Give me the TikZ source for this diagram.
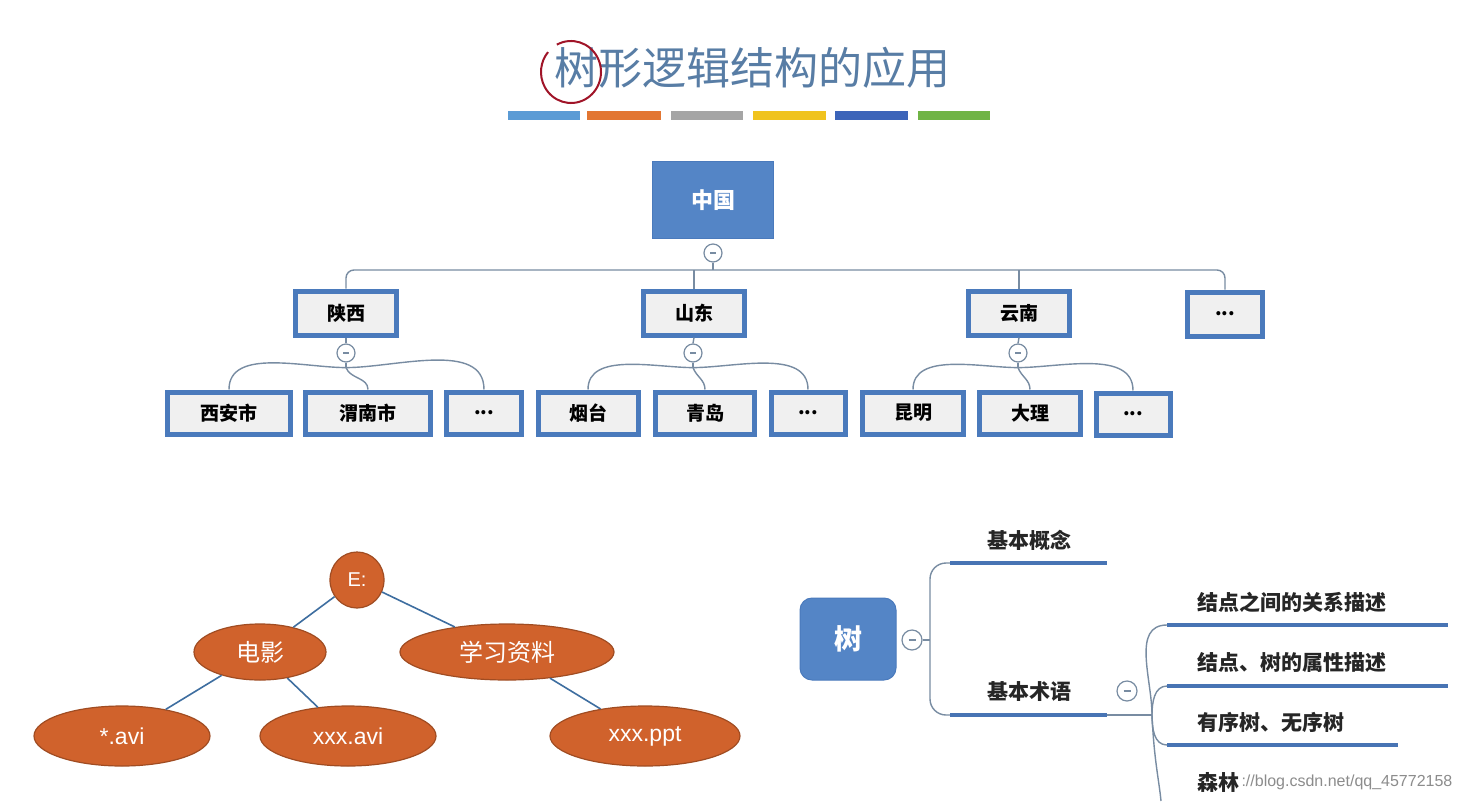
\documentclass[tikz,border=0pt]{standalone}
\usepackage{fontspec}
\setmainfont{Noto Sans CJK SC}
\newfontfamily\latinf{Liberation Sans}
\usetikzlibrary{shapes.geometric}
\definecolor{titlec}{RGB}{88,125,165}
\definecolor{boxblue}{RGB}{74,122,188}
\definecolor{boxfill}{RGB}{240,240,240}
\definecolor{headfill}{RGB}{84,133,198}
\definecolor{connc}{RGB}{120,140,162}
\definecolor{ulc}{RGB}{72,116,180}
\definecolor{ellfill}{RGB}{208,98,44}
\definecolor{elldraw}{RGB}{160,76,34}
\definecolor{ellline}{RGB}{62,110,160}
\definecolor{bar1}{RGB}{91,155,213}
\definecolor{bar2}{RGB}{226,118,50}
\definecolor{bar3}{RGB}{165,165,165}
\definecolor{bar4}{RGB}{240,195,30}
\definecolor{bar5}{RGB}{60,100,185}
\definecolor{bar6}{RGB}{112,180,70}
\definecolor{annot}{RGB}{160,20,40}
\begin{document}
\begin{tikzpicture}[x=1pt,y=-1pt,
  lbox/.style={draw=boxblue, line width=5pt, fill=boxfill, inner sep=0pt,
    font=\bfseries\fontsize{19}{19}\selectfont},
  lbox1/.style={lbox, minimum height=44pt},
  lbox2/.style={lbox, minimum height=42pt},
  fold/.style={circle, draw=connc, line width=1.2pt, fill=white, minimum size=18pt, inner sep=0pt,
    font=\fontsize{8}{8}\selectfont},
  conn/.style={draw=connc, line width=1.4pt},
  ell/.style={ellipse, draw=elldraw, line width=1.2pt, fill=ellfill, text=white, inner sep=0pt,
    font=\fontsize{24}{24}\selectfont},
  ellconn/.style={draw=ellline, line width=1.6pt},
  uline/.style={draw=ulc, line width=4pt},
  mmtext/.style={font=\bfseries\fontsize{21}{21}\selectfont, text=black!85}
]
\useasboundingbox[fill=white] (0,0) rectangle (1465,801);

% title
\node[text=titlec, font=\fontsize{44}{44}\selectfont] (title) at (752,68) {树形逻辑结构的应用};
\draw[annot, line width=2pt] (571,72) ++(-118:30 and 31) arc[start angle=-118, end angle=220, x radius=30, y radius=31];

% colour bars
\fill[bar1] (508,111) rectangle (580,120);
\fill[bar2] (587,111) rectangle (661,120);
\fill[bar3] (671,111) rectangle (743,120);
\fill[bar4] (753,111) rectangle (826,120);
\fill[bar5] (835,111) rectangle (908,120);
\fill[bar6] (918,111) rectangle (990,120);

% ===== top tree =====
\node[fill=headfill, draw=boxblue, line width=1pt, minimum width=121pt, minimum height=77pt,
  text=white, font=\bfseries\fontsize{22}{22}\selectfont] (cn) at (713,200) {中国};
\node[fold] (f0) at (713,253) {\textcolor{connc}{\rule{6pt}{1.2pt}}};

\node[lbox1, minimum width=101pt] (sx) at (346,313) {陕西};
\node[lbox1, minimum width=101pt] (sd) at (694,313) {山东};
\node[lbox1, minimum width=101pt] (yn) at (1019,313) {云南};
\node[lbox1, minimum width=75pt] (pd) at (1225,314) {...};

\coordinate (h0) at (713,270);
\draw[conn] (f0.south) -- (h0);
\draw[conn, rounded corners=8pt] (sx.north) -- (sx.north |- h0) -- (pd.north |- h0) -- (pd.north);
\draw[conn] (sd.north) -- (sd.north |- h0);
\draw[conn] (yn.north) -- (yn.north |- h0);

\node[fold] (f1) at (346,353) {\textcolor{connc}{\rule{6pt}{1.2pt}}};
\node[fold] (f2) at (693,353) {\textcolor{connc}{\rule{6pt}{1.2pt}}};
\node[fold] (f3) at (1018,353) {\textcolor{connc}{\rule{6pt}{1.2pt}}};
\draw[conn] (sx.south) -- (f1.north);
\draw[conn] (sd.south) -- (f2.north);
\draw[conn] (yn.south) -- (f3.north);

\node[lbox2, minimum width=123pt] (xa) at (229,413) {西安市};
\node[lbox2, minimum width=125pt] (wn) at (368,413) {渭南市};
\node[lbox2, minimum width=75pt] (d1) at (484,413) {...};
\node[lbox2, minimum width=100pt] (yt) at (588,413) {烟台};
\node[lbox2, minimum width=99pt] (qd) at (705,413) {青岛};
\node[lbox2, minimum width=74pt] (d2) at (808,413) {...};
\node[lbox2, minimum width=101pt] (km) at (913,413) {昆明};
\node[lbox2, minimum width=101pt] (dl) at (1030,413) {大理};
\node[lbox2, minimum width=74pt] (d3) at (1133,414) {...};

\foreach \f/\a/\b/\c in {f1/xa/wn/d1, f2/yt/qd/d2, f3/km/dl/d3}{
  \draw[conn] (\f.south) -- ++(0,5) coordinate (j\f);
  \draw[conn] (j\f) to[out=180, in=90, looseness=0.9] (\a.north);
  \draw[conn] (j\f) to[out=-70, in=90] (\b.north);
  \draw[conn] (j\f) to[out=0, in=90, looseness=0.9] (\c.north);
}

% ===== bottom-left tree =====
\node[ell, minimum width=54pt, minimum height=56pt, font=\latinf\fontsize{20}{20}\selectfont] (E) at (357,580) {E:};
\node[ell, minimum width=132pt, minimum height=56pt] (mv) at (260,652) {电影};
\node[ell, minimum width=214pt, minimum height=56pt] (st) at (507,652) {学习资料};
\node[ell, minimum width=176pt, minimum height=60pt, font=\latinf\fontsize{23}{23}\selectfont] (a1) at (122,736) {*.avi};
\node[ell, minimum width=176pt, minimum height=60pt, font=\latinf\fontsize{23}{23}\selectfont] (a2) at (348,736) {xxx.avi};
\node[ell, minimum width=190pt, minimum height=60pt, font=\latinf\fontsize{23}{23}\selectfont] (a3) at (645,736) {xxx.ppt};
\draw[ellconn] (E) -- (mv);
\draw[ellconn] (E) -- (st);
\draw[ellconn] (mv) -- (a1);
\draw[ellconn] (mv) -- (a2);
\draw[ellconn] (st) -- (a3);

% ===== mind map =====
\node[rounded corners=12pt, fill=headfill, draw=boxblue, line width=1pt, minimum width=96pt,
  minimum height=82pt, text=white, font=\bfseries\fontsize{28}{28}\selectfont] (tr) at (848,639) {树};
\node[fold, minimum size=20pt] (f4) at (912,640) {\textcolor{connc}{\rule{7pt}{1.2pt}}};
\coordinate (b0) at (930,640);
\coordinate (k1a) at (950,563);
\coordinate (k1b) at (1107,563);
\coordinate (k2a) at (950,715);
\coordinate (k2b) at (1107,715);
\node[mmtext] (k1) at (1029,540) {基本概念};
\node[mmtext] (k2) at (1029,692) {基本术语};
\draw[conn] (f4.east) -- (b0);
\draw[conn, rounded corners=16pt] (k1a) -| (b0) |- (k2a);
\draw[uline] (k1a) -- (k1b);
\draw[uline] (k2a) -- (k2b);

\node[fold, minimum size=20pt] (f5) at (1127,691) {\textcolor{connc}{\rule{7pt}{1.2pt}}};
\coordinate (bp) at (1152,715);
\draw[conn] (k2b) -- (bp);

\coordinate (r1a) at (1167,625); \coordinate (r1b) at (1448,625);
\coordinate (r2a) at (1167,686); \coordinate (r2b) at (1448,686);
\coordinate (r3a) at (1167,745); \coordinate (r3b) at (1398,745);
\coordinate (r4) at (1161,801);
\draw[conn] (bp) to[out=90, in=180] (r1a);
\draw[conn] (bp) to[out=90, in=180] (r2a);
\draw[conn] (bp) to[out=-90, in=180] (r3a);
\draw[conn] (bp) .. controls (1154,760) and (1159,780) .. (r4);
\draw[uline] (r1a) -- (r1b);
\draw[uline] (r2a) -- (r2b);
\draw[uline] (r3a) -- (r3b);
\node[mmtext, anchor=west] (t1) at (1194,602) {结点之间的关系描述};
\node[mmtext, anchor=west] (t2) at (1194,662) {结点、树的属性描述};
\node[mmtext, anchor=west] (t3) at (1194,722) {有序树、无序树};
\node[mmtext, anchor=west] (t4) at (1194,782) {森林};

\node[anchor=west, text=black!45, font=\latinf\fontsize{16}{16}\selectfont] (wm) at (1238,782) {://blog.csdn.net/qq\_45772158};
\end{tikzpicture}
\end{document}
